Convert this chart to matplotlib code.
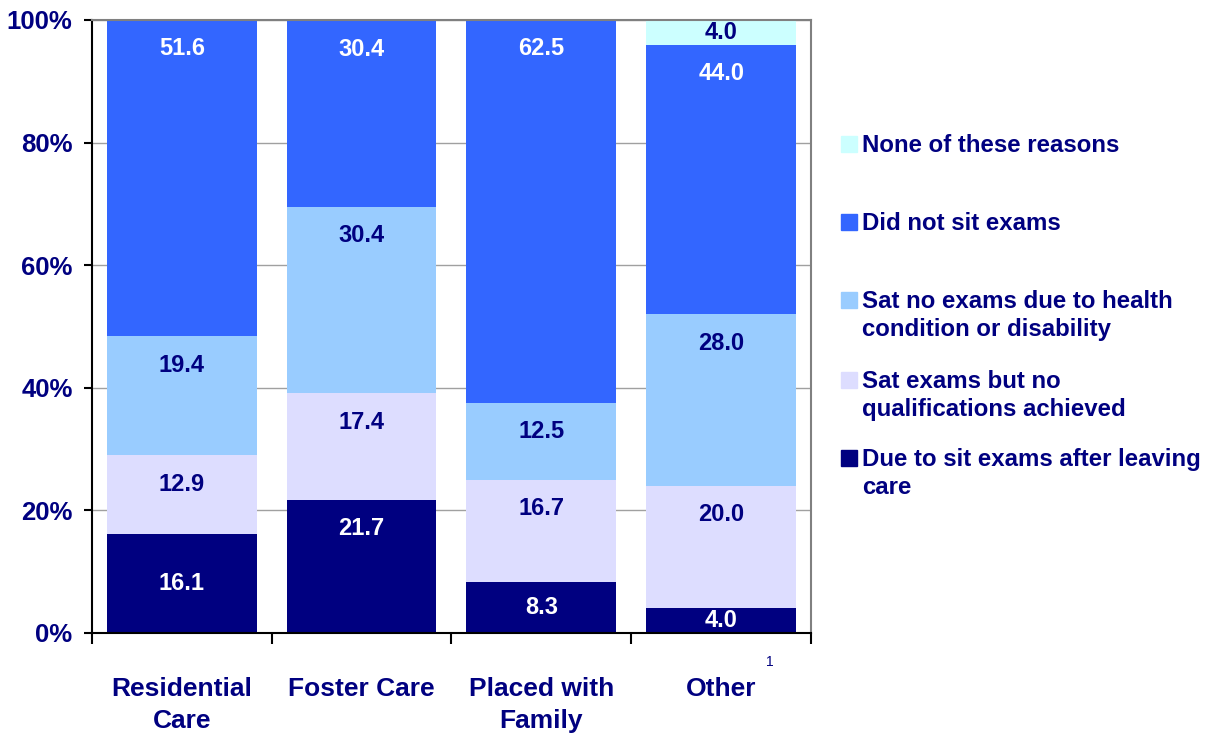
import matplotlib
matplotlib.use("Agg")
import matplotlib.pyplot as plt
import numpy as np
from matplotlib.patches import Rectangle

plt.rcParams["font.family"] = ["Liberation Sans", "DejaVu Sans"]

categories = ["Residential\nCare", "Foster Care", "Placed with\nFamily", "Other"]

# series listed bottom -> top
series_names = [
    "Due to sit exams after leaving\ncare",
    "Sat exams but no\nqualifications achieved",
    "Sat no exams due to health\ncondition or disability",
    "Did not sit exams",
    "None of these reasons",
]
due_after = [16.1, 21.7, 8.3, 4.0]
no_quals = [12.9, 17.4, 16.7, 20.0]
health = [19.4, 30.4, 12.5, 28.0]
not_sit = [51.6, 30.4, 62.5, 44.0]
none_reasons = [0.0, 0.0, 0.0, 4.0]

series = [due_after, no_quals, health, not_sit, none_reasons]
colors = ["#000080", "#DDDDFF", "#99CCFF", "#3366FF", "#CCFFFF"]
label_colors = ["white", "#000080", "#000080", "white", "#000080"]
NAVY = "#000080"

fig = plt.figure(figsize=(12.13, 7.38), dpi=100)
ax = fig.add_axes([0.0758, 0.1423, 0.5928, 0.8306])

x = np.arange(len(categories))
bottom = np.zeros(len(categories))
for k, (vals, col, tcol) in enumerate(zip(series, colors, label_colors)):
    vals = np.asarray(vals)
    ax.bar(x, vals, bottom=bottom, width=0.833, color=col, zorder=2)
    for i, v in enumerate(vals):
        if v <= 0:
            continue
        top = bottom[i] + v
        # labels hang near the top of each segment; small ones are centred
        drop = min(4.7, v / 2)
        if k == 0 and i == 0:
            drop = v / 2
        ax.text(x[i], top - drop, f"{v:.1f}", ha="center", va="center",
                color=tcol, fontsize=17, fontweight="bold", zorder=3)
    bottom += vals

ax.set_xlim(-0.5, 3.5)
ax.set_ylim(0, 100)
ax.set_yticks(np.arange(0, 101, 20))
ax.set_yticklabels([f"{v}%" for v in range(0, 101, 20)])
ax.yaxis.grid(True, color="#A0A0A0", linewidth=1.0, zorder=0)
ax.set_axisbelow(True)

ax.set_xticks(x)
ax.set_xticklabels(categories, linespacing=1.42)
ax.set_xticks(np.arange(-0.5, 3.6, 1.0), minor=True)
ax.tick_params(axis="x", which="major", length=0, pad=32)
ax.tick_params(axis="x", which="minor", length=8, width=1.5, direction="out", color="black")
ax.tick_params(axis="y", length=6, width=1.5, color="black", pad=8)

for lab in ax.get_xticklabels():
    lab.set_fontsize(19)
    lab.set_fontweight("bold")
    lab.set_color(NAVY)
for lab in ax.get_yticklabels():
    lab.set_fontsize(18.5)
    lab.set_fontweight("bold")
    lab.set_color(NAVY)

ax.spines["left"].set_color("black")
ax.spines["left"].set_linewidth(1.5)
ax.spines["bottom"].set_color("black")
ax.spines["bottom"].set_linewidth(1.5)
ax.spines["top"].set_color("#808080")
ax.spines["top"].set_linewidth(1.5)
ax.spines["right"].set_color("#808080")
ax.spines["right"].set_linewidth(1.5)

# footnote marker beside "Other"
ax.text(3.27, -4.7, "1", ha="center", va="center", fontsize=10, color=NAVY, clip_on=False)

# legend, drawn by hand (top entry first), swatch aligned with first text line
legend_y = [144, 222, 300, 380, 458]  # pixel rows of first text line
for (name, col), ypix in zip(list(zip(series_names, colors))[::-1], legend_y):
    yf = 1 - ypix / 738
    fig.patches.append(Rectangle((841 / 1213, yf - 8 / 738), 16 / 1213, 16 / 738,
                                 transform=fig.transFigure, color=col))
    fig.text(862 / 1213, yf + 10 / 738, name, ha="left", va="top", fontsize=17.3,
             fontweight="bold", color=NAVY, linespacing=1.3)

fig.savefig("out.png", dpi=100)
